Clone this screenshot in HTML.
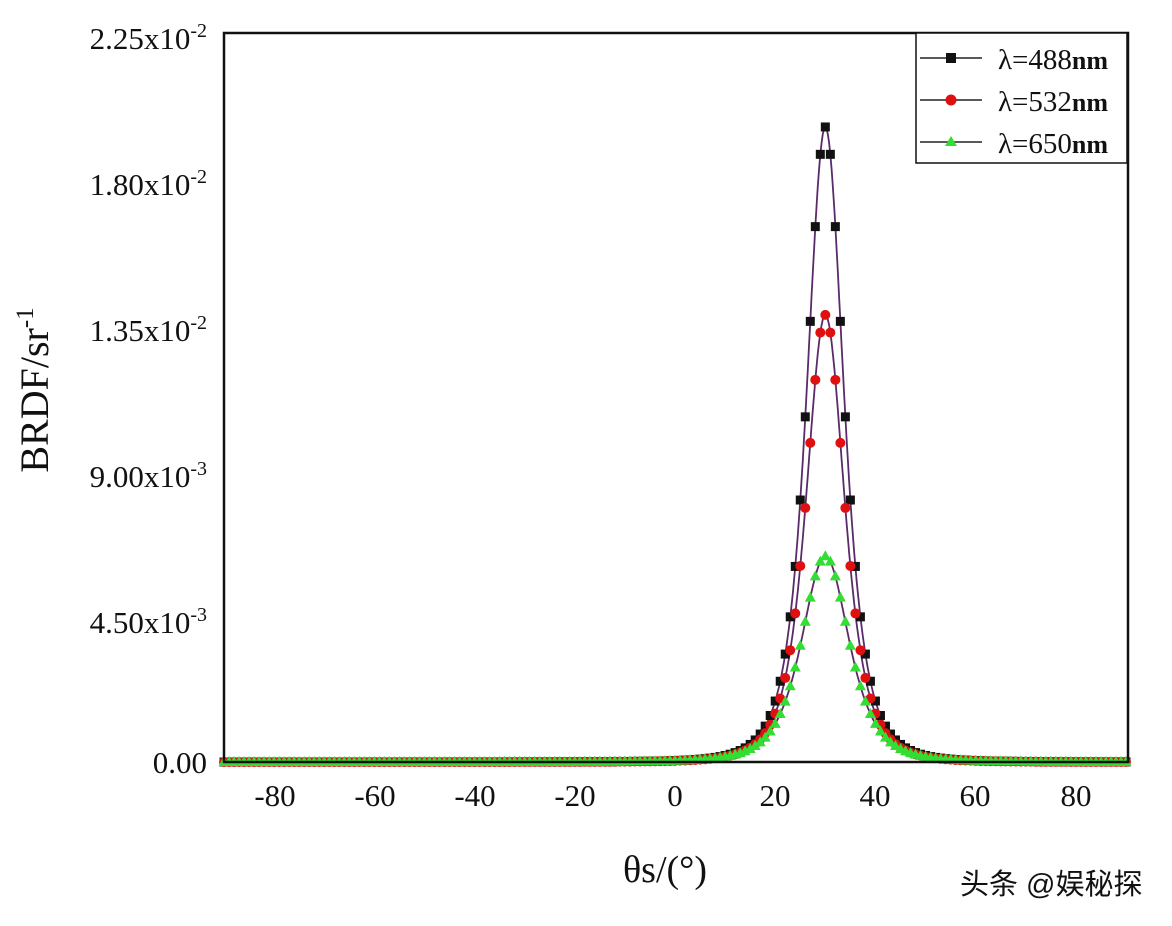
<!DOCTYPE html>
<html><head><meta charset="utf-8"><style>
body{margin:0;background:#fff;}
svg{display:block;}
text{font-family:"Liberation Serif",serif;fill:#111;}
</style></head><body>
<svg id="s" width="1172" height="926" viewBox="0 0 1172 926" xmlns="http://www.w3.org/2000/svg">
<rect width="1172" height="926" fill="#fff"/>
<g id="data"></g>
<rect x="224" y="33" width="904" height="729" fill="none" stroke="#111" stroke-width="2.5"/>
<g font-size="31" text-anchor="end">
<text x="207" y="49">2.25x10<tspan dy="-12" font-size="20">-2</tspan></text>
<text x="207" y="195">1.80x10<tspan dy="-12" font-size="20">-2</tspan></text>
<text x="207" y="341">1.35x10<tspan dy="-12" font-size="20">-2</tspan></text>
<text x="207" y="487">9.00x10<tspan dy="-12" font-size="20">-3</tspan></text>
<text x="207" y="633">4.50x10<tspan dy="-12" font-size="20">-3</tspan></text>
<text x="207" y="773">0.00</text>
</g>
<g font-size="31" text-anchor="middle">
<text x="275" y="806">-80</text><text x="375" y="806">-60</text><text x="475" y="806">-40</text>
<text x="575" y="806">-20</text><text x="675" y="806">0</text><text x="775" y="806">20</text>
<text x="875" y="806">40</text><text x="975" y="806">60</text><text x="1076" y="806">80</text>
<text x="665" y="882" font-size="38">θs/(°)</text>
</g>
<text transform="translate(48,390) rotate(-90)" font-size="40" text-anchor="middle">BRDF/sr<tspan dy="-15" font-size="25">-1</tspan></text>
<rect x="916" y="33" width="211" height="130" fill="#fff" stroke="#111" stroke-width="1.5"/>
<g stroke="#222" stroke-width="1.5">
<line x1="920" y1="58" x2="982" y2="58"/><line x1="920" y1="100" x2="982" y2="100"/><line x1="920" y1="142" x2="982" y2="142"/>
</g>
<rect x="946" y="53" width="10" height="10" fill="#111"/>
<circle cx="951" cy="100" r="5.5" fill="#e01010"/>
<polygon points="951,136 957,146 945,146" fill="#33dd33"/>
<g font-size="29">
<text x="998" y="69">λ=488<tspan font-weight="bold" font-size="26">nm</tspan></text>
<text x="998" y="111">λ=532<tspan font-weight="bold" font-size="26">nm</tspan></text>
<text x="998" y="153">λ=650<tspan font-weight="bold" font-size="26">nm</tspan></text>
</g>
<text x="960" y="894" font-size="29" style="font-family:'Liberation Sans','Noto Sans CJK SC',sans-serif">头条 @娱秘探</text>
</svg>
<script>
var g=document.getElementById('data');
function X(t){return 675+t*5.011;}
function Y(v){return 762-v/0.0225*729;}
var S=[{h:0.0196,w:6.7,c:'#111',m:'sq'},{h:0.0138,w:7.0,c:'#e01010',m:'ci'},{h:0.00635,w:8.7,c:'#33dd33',m:'tr'}];
var html='';
S.forEach(function(s){
 var f=function(t){var d=(t-30)/s.w;return s.h/Math.pow(1+d*d,2);};
 var p='';for(var t=-90;t<=90;t+=0.25){p+=(t==-90?'M':'L')+X(t).toFixed(1)+','+Y(f(t)).toFixed(1);}
 html+='<path d="'+p+'" fill="none" stroke="#5a2a6a" stroke-width="1.8"/>';
});
S.forEach(function(s){
 var f=function(t){var d=(t-30)/s.w;return s.h/Math.pow(1+d*d,2);};
 for(var t=-90;t<=90;t++){var x=X(t),y=Y(f(t));
  if(s.m=='sq')html+='<rect x="'+(x-4.5)+'" y="'+(y-4.5)+'" width="9" height="9" fill="'+s.c+'"/>';
  else if(s.m=='ci')html+='<circle cx="'+x+'" cy="'+y+'" r="5" fill="'+s.c+'"/>';
  else html+='<polygon points="'+x+','+(y-6)+' '+(x+5.5)+','+(y+4)+' '+(x-5.5)+','+(y+4)+'" fill="'+s.c+'"/>';
 }
});
g.innerHTML=html;
</script>
</body></html>
